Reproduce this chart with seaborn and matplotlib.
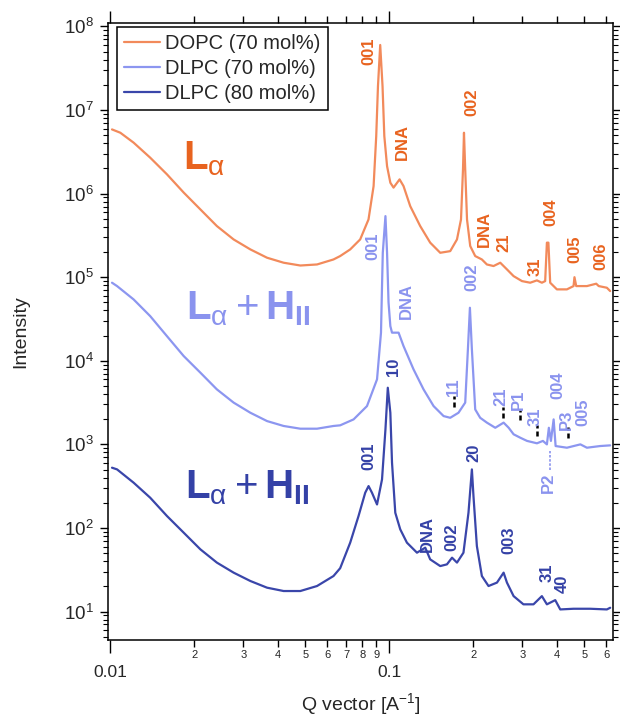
import numpy as np
import pandas as pd
import seaborn as sns
import matplotlib
matplotlib.use("Agg")
import matplotlib.pyplot as plt
from matplotlib.ticker import (FixedLocator, FixedFormatter, LogLocator,
                               LogFormatterSciNotation, NullFormatter)

# --- dados ---
series_names = ["DOPC (70 mol%)", "DLPC (70 mol%)", "DLPC (80 mol%)"]
line_colors = ["#F28A5B", "#8C96F0", "#3A46AA"]
label_colors = ["#E8631F", "#8A93EE", "#3441A6"]

q_dopc70 = [0.01014, 0.01086, 0.01212, 0.0139, 0.01596, 0.01832, 0.02103, 0.0241,
            0.02767, 0.03177, 0.03646, 0.04181, 0.04799, 0.05508, 0.0631, 0.06668,
            0.07244, 0.07865, 0.08426, 0.08787, 0.0898, 0.0911, 0.0928,
            0.0946, 0.0960, 0.0982, 0.1009, 0.1036, 0.1089, 0.1125, 0.1189, 0.1291,
            0.1402, 0.1523, 0.1654, 0.1749, 0.1808, 0.1838, 0.1853, 0.1872, 0.1900,
            0.1951, 0.2033, 0.2148, 0.2239, 0.2365, 0.2500, 0.2642, 0.2791, 0.2991,
            0.3201, 0.3384, 0.3525, 0.3622, 0.3674, 0.372, 0.3775, 0.3990, 0.4334,
            0.4578, 0.4613, 0.468, 0.5112, 0.5521, 0.5636, 0.6027, 0.6195]
i_dopc70 = [5.86e6, 5.35e6, 4.07e6, 2.69e6, 1.70e6, 1.03e6, 6.47e5, 4.09e5,
            2.83e5, 2.15e5, 1.71e5, 1.49e5, 1.38e5, 1.42e5, 1.63e5, 1.79e5,
            2.15e5, 2.83e5, 4.91e5, 1.23e6, 4.88e6, 1.93e7, 6.0e7,
            1.93e7, 4.88e6, 2.13e6, 1.35e6, 1.18e6, 1.48e6, 1.23e6, 7.08e5, 4.09e5,
            2.59e5, 1.96e5, 2.05e5, 2.83e5, 4.91e5, 1.95e6, 5.35e6, 1.95e6, 4.91e5,
            2.36e5, 1.79e5, 1.63e5, 1.42e5, 1.36e5, 1.49e5, 1.24e5, 1.03e5, 8.98e4,
            8.59e4, 9.16e4, 8.59e4, 8.98e4, 2.59e5, 2.59e5, 8.59e4, 7.15e4, 7.15e4,
            7.83e4, 1.00e5, 7.83e4, 7.83e4, 8.36e4, 7.83e4, 7.48e4, 6.82e4]

q_dlpc70 = [0.01014, 0.01057, 0.01212, 0.0139, 0.01596, 0.01832, 0.02103, 0.0241,
            0.02767, 0.03177, 0.03646, 0.04181, 0.04799, 0.05508, 0.0631, 0.06668,
            0.0745, 0.0832, 0.0904, 0.0934, 0.0942, 0.0948, 0.0969, 0.0982, 0.0994,
            0.1009, 0.1023, 0.1080, 0.1125, 0.1222, 0.1327, 0.1442, 0.1566, 0.1654,
            0.1771, 0.1872, 0.1914, 0.1946, 0.1978, 0.2033, 0.2118, 0.2239, 0.2399,
            0.2570, 0.2680, 0.2791, 0.2951, 0.3119, 0.3384, 0.3555, 0.3674, 0.3734,
            0.3798, 0.3884, 0.3948, 0.4334, 0.4844, 0.5112, 0.5700, 0.6195]
i_dlpc70 = [8.59e4, 7.83e4, 5.42e4, 3.42e4, 1.97e4, 1.14e4, 7.21e3, 4.55e3,
            3.16e3, 2.39e3, 1.90e3, 1.66e3, 1.54e3, 1.54e3, 1.66e3, 1.69e3,
            1.99e3, 2.87e3, 6.00e3, 2.17e4, 7.83e4, 1.96e5, 5.38e5, 1.96e5, 5.0e4,
            2.6e4, 2.17e4, 2.17e4, 1.50e4, 7.89e3, 4.55e3, 2.87e3, 2.18e3, 2.08e3,
            2.39e3, 3.16e3, 1.37e4, 4.31e4, 1.37e4, 2.62e3, 2.08e3, 1.82e3, 1.58e3,
            1.82e3, 1.58e3, 1.32e3, 1.20e3, 1.10e3, 1.03e3, 1.10e3, 1.00e3, 1.58e3,
            1.10e3, 1.99e3, 955, 912, 1.00e3, 912, 955, 973]

q_dlpc80 = [0.01014, 0.01057, 0.01212, 0.0139, 0.01596, 0.01832, 0.02103, 0.0241,
            0.02767, 0.03177, 0.03646, 0.04181, 0.04799, 0.05508, 0.0631, 0.06668,
            0.07244, 0.0776, 0.0820, 0.0843, 0.0867, 0.0904, 0.0942, 0.0969, 0.0988,
            0.1009, 0.1023, 0.1051, 0.1095, 0.1157, 0.1257, 0.1346, 0.1402, 0.1523,
            0.1610, 0.1679, 0.1749, 0.1845, 0.1923, 0.1978, 0.2004, 0.2061, 0.2148,
            0.2269, 0.2433, 0.2570, 0.2642, 0.2791, 0.3027, 0.3289, 0.3525, 0.3674,
            0.3936, 0.4102, 0.4578, 0.525, 0.6027, 0.6195]
i_dlpc80 = [526, 502, 348, 230, 139, 87.9, 55.5, 38.5,
            29.2, 23.2, 19.3, 17.6, 17.6, 20.2, 26.6, 33.0,
            66.7, 139, 264, 317, 264, 191, 381, 1.51e3, 4.76e3,
            2.39e3, 604, 152, 96.2, 66.7, 50.6, 58.1, 42.1, 35.0,
            36.7, 44.1, 38.5, 50.6, 152, 502, 241, 60.8, 26.6,
            20.2, 22.2, 29.2, 22.2, 15.3, 12.2, 12.2, 15.3, 12.2,
            13.7, 10.6, 10.8, 10.8, 10.6, 11.1]

x_major_ticks = [0.01, 0.1]
x_major_labels = ["0.01", "0.1"]
x_minor_ticks = [0.02, 0.03, 0.04, 0.05, 0.06, 0.07, 0.08, 0.09, 0.2, 0.3, 0.4, 0.5, 0.6]
x_minor_labels = ["2", "3", "4", "5", "6", "7", "8", "9", "2", "3", "4", "5", "6"]
y_major_ticks = [1e1, 1e2, 1e3, 1e4, 1e5, 1e6, 1e7, 1e8]

# rótulos dos picos (texto, Q, I)
peaks_dopc70 = [("001", 0.0848, 5.02e7), ("DNA", 0.1110, 4.09e6), ("002", 0.1979, 1.23e7),
                ("DNA", 0.2191, 3.73e5), ("21", 0.2569, 2.61e5), ("31", 0.3337, 1.35e5),
                ("004", 0.3807, 5.96e5), ("005", 0.4642, 2.15e5), ("006", 0.5740, 1.77e5)]
peaks_dlpc70 = [("001", 0.0876, 2.33e5), ("DNA", 0.1151, 5.14e4), ("002", 0.1979, 9.96e4),
                ("11", 0.1696, 4.81e3), ("21", 0.2520, 3.75e3), ("P1", 0.2906, 3.45e3),
                ("31", 0.3337, 2.16e3), ("004", 0.4034, 5.08e3), ("P3", 0.4310, 1.99e3),
                ("005", 0.4958, 2.42e3), ("P2", 0.3724, 351)]
marks_dlpc70 = [(0.1701, 2.77e3, 3.75e3), (0.2547, 2.05e3, 2.77e3), (0.2947, 1.94e3, 2.55e3),
                (0.3384, 1.25e3, 1.69e3), (0.4370, 1.18e3, 1.60e3)]
p2_line = (0.3754, 494, 824)
peaks_dlpc80 = [("001", 0.0843, 718), ("10", 0.1033, 8.57e3), ("DNA", 0.1365, 83.8),
                ("002", 0.1678, 77.3), ("20", 0.2005, 801), ("003", 0.2677, 71.1),
                ("31", 0.3693, 29.5), ("40", 0.4159, 21.7)]

phase_labels = [r"$\mathbf{L}_{\mathrm{\alpha}}$",
                r"$\mathbf{L}_{\mathrm{\alpha}} + \mathbf{H}_{\mathbf{II}}$",
                r"$\mathbf{L}_{\mathrm{\alpha}} + \mathbf{H}_{\mathbf{II}}$"]
phase_pos = [(0.149, 0.762), (0.154, 0.519), (0.152, 0.2285)]

# --- estilo ---
sns.set_style("ticks")
plt.rcParams["font.family"] = ["Liberation Sans", "DejaVu Sans"]
plt.rcParams["mathtext.fontset"] = "custom"
plt.rcParams["mathtext.rm"] = "Liberation Sans"
plt.rcParams["mathtext.bf"] = "Liberation Sans:bold"
plt.rcParams["mathtext.it"] = "Liberation Sans:italic"

frames = []
for name, q, inten in zip(series_names, [q_dopc70, q_dlpc70, q_dlpc80],
                          [i_dopc70, i_dlpc70, i_dlpc80]):
    frames.append(pd.DataFrame({"Q": q, "I": inten, "sample": name}))
df = pd.concat(frames, ignore_index=True)

fig = plt.figure(figsize=(6.2, 7.18), dpi=100)
ax = fig.add_axes([0.174, 0.109, 0.815, 0.859])
ax.set_xscale("log")
ax.set_yscale("log")

sns.lineplot(data=df, x="Q", y="I", hue="sample", hue_order=series_names,
             palette=line_colors, estimator=None, sort=False, lw=1.6, ax=ax)

ax.set_xlim(0.0098, 0.635)
ax.set_ylim(4.6, 1.1e8)

# rótulos dos picos
for peaks, col in zip([peaks_dopc70, peaks_dlpc70, peaks_dlpc80], label_colors):
    for txt, q, inten in peaks:
        ax.text(q, inten, txt, rotation=90, ha="center", va="center",
                fontsize=12, fontweight="bold", color=col)
for q, lo, hi in marks_dlpc70:
    ax.vlines(q, lo, hi, colors="black", lw=1.8, linestyles=(0, (2, 1.2)))
ax.vlines(p2_line[0], p2_line[1], p2_line[2], colors=label_colors[1], lw=1.2,
          linestyles=(0, (1.5, 1)))

for txt, (px, py), col in zip(phase_labels, phase_pos, label_colors):
    ax.text(px, py, txt, transform=ax.transAxes, fontsize=29, color=col,
            ha="left", va="baseline")

# eixos
ax.xaxis.set_major_locator(FixedLocator(x_major_ticks))
ax.xaxis.set_major_formatter(FixedFormatter(x_major_labels))
ax.xaxis.set_minor_locator(FixedLocator(x_minor_ticks))
ax.xaxis.set_minor_formatter(FixedFormatter(x_minor_labels))
ax.yaxis.set_major_locator(FixedLocator(y_major_ticks))
ax.yaxis.set_major_formatter(LogFormatterSciNotation())
ax.yaxis.set_minor_locator(LogLocator(base=10, subs=np.arange(2, 10), numticks=20))
ax.yaxis.set_minor_formatter(NullFormatter())

ax.tick_params(axis="x", which="major", direction="out", length=9, width=1,
               pad=9, labelsize=12.5, top=True, labeltop=False, color="black")
ax.tick_params(axis="x", which="minor", direction="out", length=5, width=1,
               pad=2.5, labelsize=8, top=True, labeltop=False, color="black")
ax.tick_params(axis="y", which="major", direction="out", length=6, width=1,
               pad=4, labelsize=13.5, right=True, color="black")
ax.tick_params(axis="y", which="minor", direction="out", length=3.5, width=0.8,
               right=True, color="black")

for sp in ax.spines.values():
    sp.set_visible(True)
    sp.set_color("black")
    sp.set_linewidth(1.1)

ax.set_xlabel(r"Q vector [A$^{\mathregular{-1}}$]", fontsize=14)
ax.set_ylabel("Intensity", fontsize=14)
ax.xaxis.set_label_coords(0.5, -0.083)
ax.yaxis.set_label_coords(-0.155, 0.5)

leg = ax.legend(loc="upper left", bbox_to_anchor=(0.018, 0.993), borderaxespad=0,
                frameon=True, fancybox=False, edgecolor="black", fontsize=14.5,
                handlelength=1.8, handletextpad=0.25, labelspacing=0.3, borderpad=0.35)
leg.get_frame().set_linewidth(1.1)
leg.get_frame().set_alpha(1)

fig.savefig("out.png", dpi=100)
